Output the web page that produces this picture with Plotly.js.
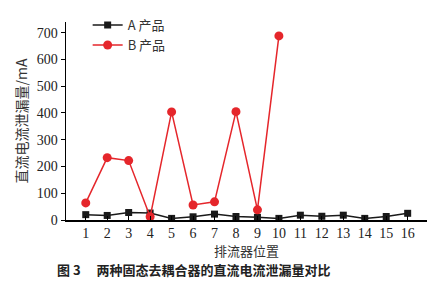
<!DOCTYPE html>
<html><head><meta charset="utf-8">
<script src="https://cdn.plot.ly/plotly-3.0.1.min.js"></script>
<style>html,body{margin:0;padding:0;background:#fff}#c{width:437px;height:288px}</style>
</head><body><div id="c"></div>
<script>
const positions = [1,2,3,4,5,6,7,8,9,10,11,12,13,14,15,16];
const seriesA = [20,17,28,26,6,12,22,13,10,6,18,14,18,6,13,25];
const positionsB = [1,2,3,4,5,6,7,8,9,10];
const seriesB = [64,233,222,12,404,56,68,405,38,688];
const nameA = 'A 产品';
const nameB = 'B 产品';
const yTitle = '直流电流泄漏量/mA';
const xTitle = '排流器位置';
const caption = '图 3　 两种固态去耦合器的直流电流泄漏量对比';

const serif = 'Liberation Serif, Times New Roman, serif';
const cjk = 'Noto Sans CJK SC, sans-serif';

const traces = [
  {x: positions, y: seriesA, name: nameA, type: 'scatter', mode: 'lines+markers',
   line: {color: '#1a1a1a', width: 1.5}, marker: {symbol: 'square', size: 7, color: '#1a1a1a'}},
  {x: positionsB, y: seriesB, name: nameB, type: 'scatter', mode: 'lines+markers',
   line: {color: '#e5262b', width: 1.5}, marker: {symbol: 'circle', size: 9, color: '#e5262b'}}
];

const layout = {
  width: 437, height: 288,
  margin: {l: 66, r: 10, t: 14, b: 68},
  paper_bgcolor: '#fff', plot_bgcolor: '#fff',
  showlegend: true,
  legend: {x: 0.06, y: 1.06, xanchor: 'left', yanchor: 'top', bgcolor: 'rgba(0,0,0,0)',
           font: {family: cjk, size: 13, color: '#333'}, tracegroupgap: 0, itemwidth: 30},
  xaxis: {range: [0.08, 16.9], tickvals: positions, ticktext: positions.map(String),
          showgrid: false, zeroline: false, showline: true, linecolor: '#000', linewidth: 1.5,
          ticks: 'inside', ticklen: 4, tickcolor: '#000',
          tickfont: {family: serif, size: 14, color: '#222'}},
  yaxis: {range: [0, 740], tickvals: [0,100,200,300,400,500,600,700],
          showgrid: false, zeroline: false, showline: true, linecolor: '#000', linewidth: 1.5,
          ticks: 'outside', ticklen: 4, tickcolor: '#000',
          tickfont: {family: serif, size: 14, color: '#222'},
          title: {text: yTitle, font: {family: cjk, size: 14, color: '#333'}, standoff: 6}},
  annotations: [
    {text: xTitle, xref: 'paper', yref: 'paper', x: 0.5, y: -0.152,
     xanchor: 'center', yanchor: 'middle', showarrow: false,
     font: {family: cjk, size: 13, color: '#333'}},
    {text: '<b>' + caption + '</b>', xref: 'paper', yref: 'paper', x: -0.03, y: -0.25,
     xanchor: 'left', yanchor: 'middle', showarrow: false,
     font: {family: cjk, size: 13, color: '#222'}}
  ]
};
Plotly.newPlot('c', traces, layout, {displayModeBar: false, staticPlot: true});
</script></body></html>
